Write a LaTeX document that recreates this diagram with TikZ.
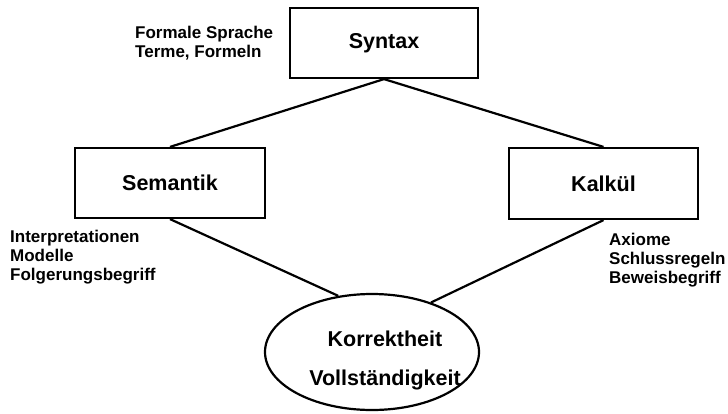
\documentclass[tikz,border=0pt]{standalone}
\usepackage{fontspec}
\setmainfont{Liberation Sans}
\usetikzlibrary{shapes.geometric}
\begin{document}
\begin{tikzpicture}[x=1pt,y=-1pt,
  box/.style={draw, line width=2.2pt, rectangle, inner sep=0pt, font=\bfseries\fontsize{21.5}{24}\selectfont},
  note/.style={inner sep=0pt, align=left, anchor=base west, font=\bfseries\fontsize{17}{19}\selectfont},
  conn/.style={line width=2.2pt}]
\useasboundingbox (0,0) rectangle (728,413);
\node[box, minimum width=188pt, minimum height=70pt] (syn) at (384,43) {Syntax};
\node[box, minimum width=190pt, minimum height=70pt] (sem) at (170,183) {Semantik};
\node[box, minimum width=189pt, minimum height=71pt] (kal) at (603.5,183.5) {Kalkül};
\node[draw, ellipse, line width=2.2pt, minimum width=214pt, minimum height=116pt, inner sep=0pt] (ell) at (372,352) {};
\node[inner sep=0pt, align=center, anchor=base, font=\bfseries\fontsize{21.5}{39}\selectfont] (kv) at (385,385) {Korrektheit\\Vollständigkeit};
\node[note] (n1) at (135,57) {Formale Sprache\\Terme, Formeln};
\node[note] (n2) at (10,280) {Interpretationen\\Modelle\\Folgerungsbegriff};
\node[note] (n3) at (609,283) {Axiome\\Schlussregeln\\Beweisbegriff};
\draw[conn] (syn.south) -- (sem.north);
\draw[conn] (syn.south) -- (kal.north);
\draw[conn] (sem.south) -- (ell.121);
\draw[conn] (kal.south) -- (ell.40);
\end{tikzpicture}
\end{document}
